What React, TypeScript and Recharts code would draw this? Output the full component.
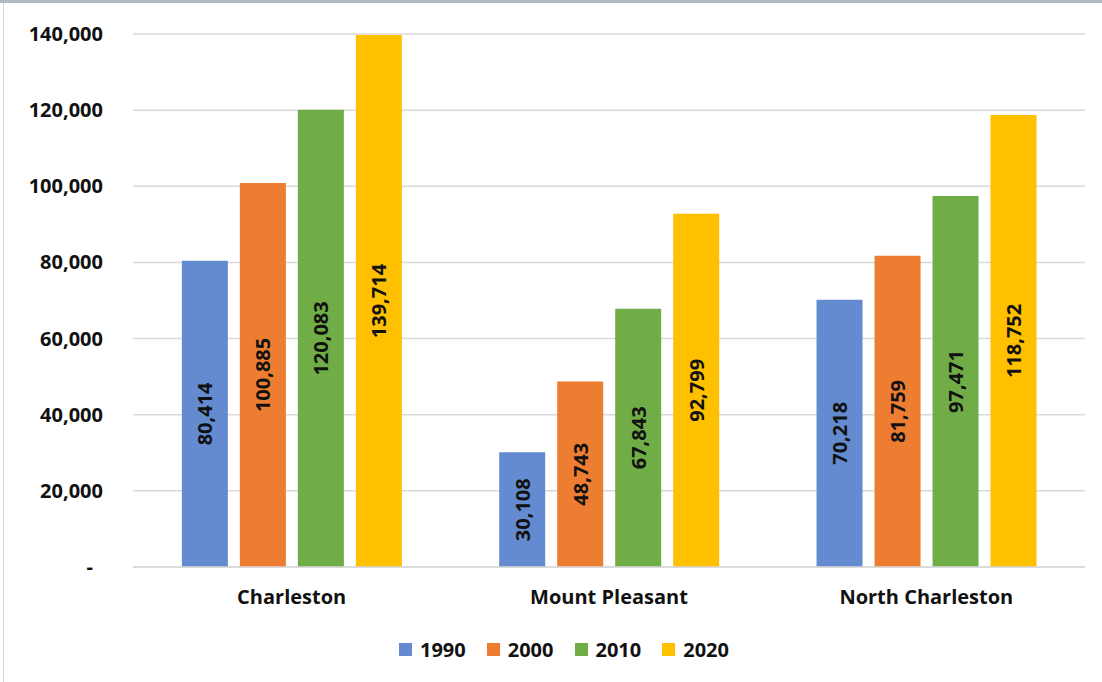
import React from 'react';
import { BarChart, Bar, XAxis, YAxis, CartesianGrid, Legend, LabelList } from 'recharts';

const cities = ['Charleston', 'Mount Pleasant', 'North Charleston'];
const pop1990 = [80414, 30108, 70218];
const pop2000 = [100885, 48743, 81759];
const pop2010 = [120083, 67843, 97471];
const pop2020 = [139714, 92799, 118752];
const years = ['1990', '2000', '2010', '2020'];
const colors = ['#648BCF', '#ED7D31', '#70AD47', '#FFC000'];
const yTicks = [0, 20000, 40000, 60000, 80000, 100000, 120000, 140000];

const data = cities.map((c, i) => ({
  city: c,
  '1990': pop1990[i],
  '2000': pop2000[i],
  '2010': pop2010[i],
  '2020': pop2020[i],
}));

const FONT = '"Open Sans", Lato, sans-serif';
const fmt = (v: number) => (v === 0 ? '-' : v.toLocaleString('en-US'));

const YTick = (props: any) => {
  const { x, y, payload } = props;
  return (
    <text x={x} y={y} dx={payload.value === 0 ? -10 : 0} dy={7} textAnchor="end" fontFamily={FONT} fontWeight={700} fontSize={20} fill="#111">
      {fmt(payload.value)}
    </text>
  );
};

const XTick = (props: any) => {
  const { x, y, payload } = props;
  return (
    <text x={x} y={y} dy={37} textAnchor="middle" fontFamily={FONT} fontWeight={700} fontSize={20} fill="#111">
      {payload.value}
    </text>
  );
};

const LegendContent = () => (
  <div style={{ display: 'flex', justifyContent: 'center', alignItems: 'center', height: 30, fontFamily: FONT, fontWeight: 700, fontSize: 20, color: '#111', paddingLeft: 30 }}>
    {years.map((y, i) => (
      <div key={y} style={{ display: 'flex', alignItems: 'center', marginLeft: i === 0 ? 0 : 21 }}>
        <span style={{ width: 13, height: 13, background: colors[i], display: 'inline-block', marginRight: 8 }} />
        <span>{y}</span>
      </div>
    ))}
  </div>
);

const renderLabel = (props: any) => {
  const { x, y, width, height, value } = props;
  const cx = x + width / 2;
  const cy = y + height / 2;
  return (
    <text
      x={cx}
      y={cy}
      transform={`rotate(-90, ${cx}, ${cy})`}
      textAnchor="middle"
      dominantBaseline="central"
      fontFamily={FONT}
      fontWeight={700}
      fontSize={20}
      fill="#111"
    >
      {fmt(value)}
    </text>
  );
};

export default function App() {
  return (
    <div style={{ position: 'absolute', top: 0, left: 0, width: 1102, height: 682, background: '#fff' }}>
      <div style={{ position: 'absolute', top: 0, left: 0, width: 1102, height: 3, background: '#b3bbbf' }} />
      <div style={{ position: 'absolute', top: 3, left: 3, width: 1, height: 679, background: '#d6d6d6' }} />
      <BarChart
        width={1102}
        height={682}
        data={data}
        margin={{ top: 34, right: 17, left: 13, bottom: 18 }}
        barCategoryGap="15.4%"
        barGap={12}
      >
        <CartesianGrid vertical={false} stroke="#d9d9d9" strokeWidth={1.5} />
        <XAxis
          dataKey="city"
          height={67}
          axisLine={{ stroke: '#d9d9d9', strokeWidth: 1.5 }}
          tickLine={false}
          tickSize={0}
          tickMargin={0}
          tick={<XTick />}
        />
        <YAxis
          width={120}
          domain={[0, 140000]}
          ticks={yTicks}
          axisLine={false}
          tickLine={false}
          tickSize={0}
          tickMargin={30}
          tick={<YTick />}
        />
        <Legend verticalAlign="bottom" content={<LegendContent />} height={30} />
        {years.map((y, i) => (
          <Bar key={y} dataKey={y} fill={colors[i]} isAnimationActive={false}>
            <LabelList dataKey={y} content={renderLabel} />
          </Bar>
        ))}
      </BarChart>
    </div>
  );
}
